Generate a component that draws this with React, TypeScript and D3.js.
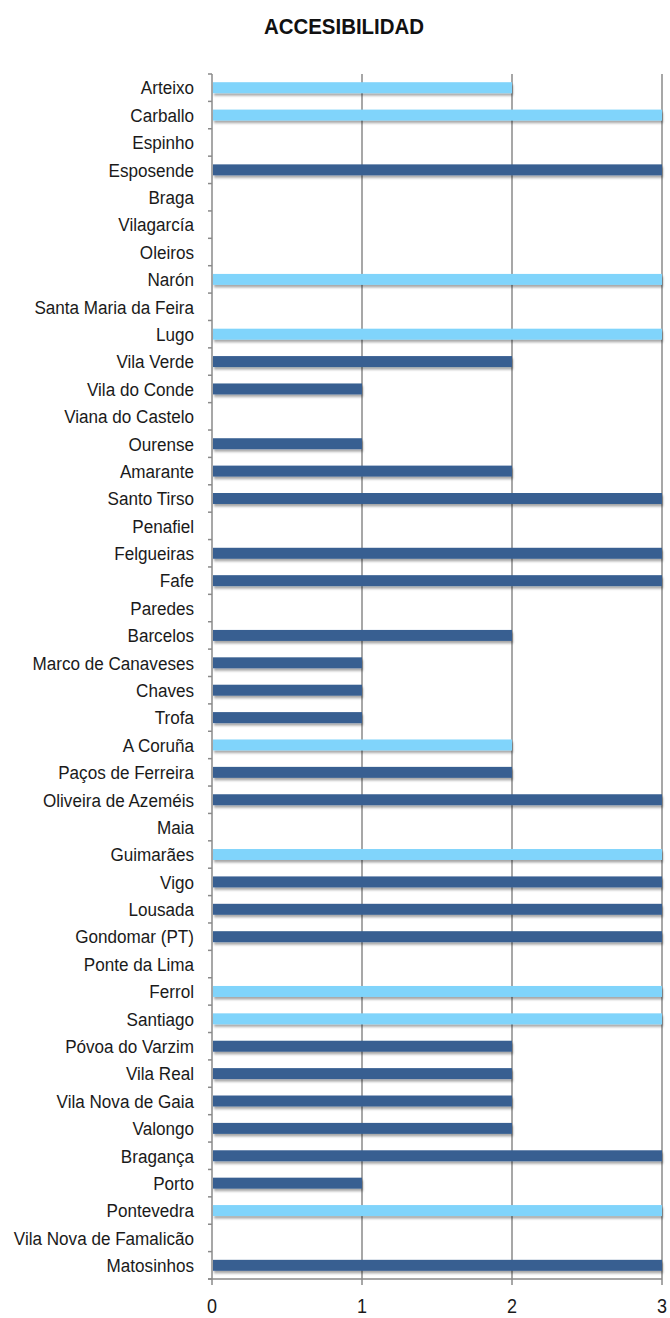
import React from "react";
import * as d3 from "d3";

const title = "ACCESIBILIDAD";

const categories = [
  "Arteixo", "Carballo", "Espinho", "Esposende", "Braga", "Vilagarcía", "Oleiros", "Narón",
  "Santa Maria da Feira", "Lugo", "Vila Verde", "Vila do Conde", "Viana do Castelo", "Ourense",
  "Amarante", "Santo Tirso", "Penafiel", "Felgueiras", "Fafe", "Paredes", "Barcelos",
  "Marco de Canaveses", "Chaves", "Trofa", "A Coruña", "Paços de Ferreira", "Oliveira de Azeméis",
  "Maia", "Guimarães", "Vigo", "Lousada", "Gondomar (PT)", "Ponte da Lima", "Ferrol", "Santiago",
  "Póvoa do Varzim", "Vila Real", "Vila Nova de Gaia", "Valongo", "Bragança", "Porto",
  "Pontevedra", "Vila Nova de Famalicão", "Matosinhos",
];

const values = [
  2, 3, 0, 3, 0, 0, 0, 3,
  0, 3, 2, 1, 0, 1,
  2, 3, 0, 3, 3, 0, 2,
  1, 1, 1, 2, 2, 3,
  0, 3, 3, 3, 3, 0, 3, 3,
  2, 2, 2, 2, 3, 1,
  3, 0, 3,
];

const groups = [
  "light", "light", "dark", "dark", "dark", "dark", "dark", "light",
  "dark", "light", "dark", "dark", "dark", "dark",
  "dark", "dark", "dark", "dark", "dark", "dark", "dark",
  "dark", "dark", "dark", "light", "dark", "dark",
  "dark", "light", "dark", "dark", "dark", "dark", "light", "light",
  "dark", "dark", "dark", "dark", "dark", "dark",
  "light", "dark", "dark",
];

const xTicks = [0, 1, 2, 3];

export default function App() {
  const W = 670;
  const H = 1318;
  const left = 212;
  const right = 662;
  const top = 74;
  const bottom = 1279;

  const x = d3.scaleLinear().domain([0, 3]).range([left, right]);
  const y = d3
    .scaleBand<string>()
    .domain(categories)
    .range([top, bottom])
    .paddingInner(0.6)
    .paddingOuter(0.3);
  const color = d3
    .scaleOrdinal<string, string>()
    .domain(["light", "dark"])
    .range(["#80d4fb", "#375f91"]);

  const step = (bottom - top) / categories.length;
  const boundaries = d3.range(categories.length + 1).map((i) => top + i * step);

  const font = "'Liberation Sans', Arial, Helvetica, sans-serif";

  return (
    <svg
      width={W}
      height={H}
      style={{ position: "absolute", left: 0, top: 0, background: "#fff" }}
    >
      <defs>
        <filter id="shadow" x="-5%" y="-50%" width="110%" height="220%">
          <feDropShadow dx="1" dy="2.5" stdDeviation="1.3" floodColor="#000" floodOpacity="0.35" />
        </filter>
      </defs>
      <text
        transform={`translate(344,34) scale(0.93,1)`}
        textAnchor="middle"
        fontFamily={font}
        fontWeight="bold"
        fontSize={22}
        fill="#111"
      >
        {title}
      </text>

      {/* gridlines */}
      {xTicks.slice(1).map((t) => (
        <line
          key={"g" + t}
          x1={x(t)}
          x2={x(t)}
          y1={top}
          y2={bottom + 6}
          stroke="#8a8a8a"
          strokeWidth={1.5}
        />
      ))}

      {/* axes */}
      <line x1={left} x2={left} y1={top} y2={bottom + 6} stroke="#8a8a8a" strokeWidth={1.5} />
      <line x1={left - 4} x2={right} y1={bottom} y2={bottom} stroke="#8a8a8a" strokeWidth={1.5} />
      {boundaries.map((b, i) => (
        <line key={"t" + i} x1={left - 4} x2={left} y1={b} y2={b} stroke="#8a8a8a" strokeWidth={1.5} />
      ))}

      {/* bars */}
      {categories.map((c, i) =>
        values[i] > 0 ? (
          <rect
            key={"b" + c}
            x={x(0) + 1}
            y={y(c)!}
            width={x(values[i]) - x(0) - 1}
            height={y.bandwidth()}
            fill={color(groups[i])}
            filter="url(#shadow)"
          />
        ) : null
      )}

      {/* category labels */}
      {categories.map((c) => {
        const cy = y(c)! + y.bandwidth() / 2;
        return (
          <text
            key={"l" + c}
            transform={`translate(194,${cy + 6.8}) scale(0.9,1)`}
            textAnchor="end"
            fontFamily={font}
            fontSize={19}
            fill="#1a1a1a"
          >
            {c}
          </text>
        );
      })}

      {/* x tick labels */}
      {xTicks.map((t) => (
        <text
          key={"x" + t}
          transform={`translate(${x(t)},${1313}) scale(0.9,1)`}
          textAnchor="middle"
          fontFamily={font}
          fontSize={20}
          fill="#1a1a1a"
        >
          {t}
        </text>
      ))}
    </svg>
  );
}
